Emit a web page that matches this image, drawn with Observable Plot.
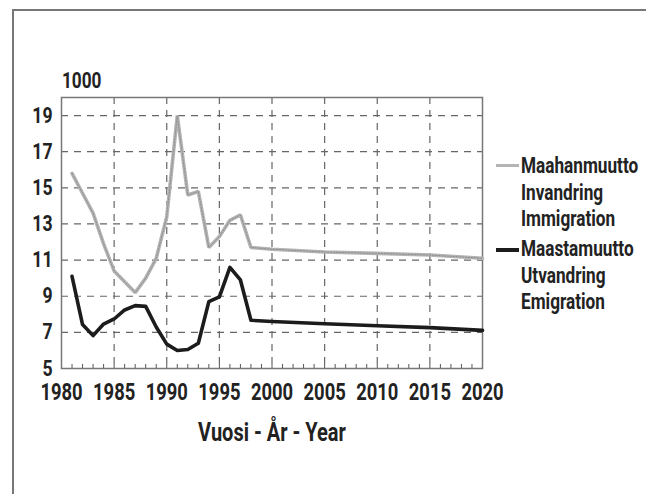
<!DOCTYPE html>
<html>
<head>
<meta charset="utf-8">
<script src="https://cdn.jsdelivr.net/npm/d3@7"></script>
<script src="https://cdn.jsdelivr.net/npm/@observablehq/plot@0.6"></script>
<style>
  html, body { margin: 0; padding: 0; background: #fff; }
  body { width: 646px; height: 494px; position: relative; overflow: hidden;
         font-family: Roboto, 'Liberation Sans', sans-serif; font-weight: 700; color: #222; }
  #border { position: absolute; left: 12px; top: 9px; width: 700px; height: 600px;
            border-left: 2px solid #777; border-top: 2px solid #777; }
  #chart { position: absolute; left: 0; top: 0; }
  .txt { position: absolute; font-size: 21.5px; line-height: 26px; white-space: nowrap;
         transform: scaleX(0.8); transform-origin: 0 0; }
  .sw { position: absolute; width: 23px; }
</style>
</head>
<body>
<div id="border"></div>
<div id="chart"></div>
<div class="txt" id="unit" style="left:62px; top:68px;"></div>
<div id="legend"></div>
<script>
// ---- data ----
const years = [1981,1982,1983,1984,1985,1986,1987,1988,1989,1990,1991,1992,1993,1994,1995,1996,1997,1998,2000,2005,2010,2015,2020];
const immigration = [15.8,14.7,13.6,11.9,10.4,9.8,9.2,10.0,11.1,13.4,19.0,14.6,14.8,11.7,12.3,13.2,13.5,11.7,11.6,11.45,11.37,11.28,11.1];
const emigration  = [10.1,7.43,6.82,7.46,7.74,8.24,8.48,8.44,7.3,6.35,6.0,6.05,6.4,8.7,8.96,10.6,9.9,7.67,7.6,7.48,7.37,7.26,7.11];
const xTicks = [1980,1985,1990,1995,2000,2005,2010,2015,2020];
const yTicks = [5,7,9,11,13,15,17,19];
const minorYears = d3.range(1981, 2020);
const unitLabel = "1000";
const xLabel = "Vuosi - År - Year";
const seriesNames = [
  ["Maahanmuutto", "Invandring", "Immigration"],
  ["Maastamuutto", "Utvandring", "Emigration"]
];
const seriesColors = ["#b4b4b4", "#1c1c1c"];

const immData = years.map((y, i) => ({year: y, value: immigration[i]}));
const emiData = years.map((y, i) => ({year: y, value: emigration[i]}));

const chart = Plot.plot({
  width: 646,
  height: 494,
  marginLeft: 61,
  marginRight: 164,
  marginTop: 97,
  marginBottom: 126,
  style: {fontFamily: "Roboto, 'Liberation Sans', sans-serif", fontSize: "22px", fontWeight: 700, color: "#222", background: "transparent"},
  x: {domain: [1980, 2020], ticks: xTicks, tickFormat: d => String(d), tickSize: 0, tickPadding: 15,
      label: xLabel, labelAnchor: "center", labelOffset: 72, labelArrow: "none"},
  y: {domain: [5, 20], ticks: yTicks, tickSize: 0, tickPadding: 9, label: null},
  marks: [
    Plot.gridY(yTicks.filter(d => d > 5), {stroke: "#666", strokeOpacity: 1, strokeWidth: 1.2, strokeDasharray: "7,6"}),
    Plot.gridX(xTicks.filter(d => d > 1980 && d < 2020), {stroke: "#666", strokeOpacity: 1, strokeWidth: 1.2, strokeDasharray: "7,6"}),
    Plot.ruleX(minorYears, {x: d => d, y1: 5, y2: 5.22, stroke: "#555", strokeWidth: 1}),
    Plot.frame({stroke: "#777", strokeWidth: 1.5}),
    Plot.line(immData, {x: "year", y: "value", stroke: seriesColors[0], strokeWidth: 3.6, strokeLinejoin: "miter"}),
    Plot.line(immData, {x: "year", y: "value", stroke: "#909090", strokeWidth: 1, strokeDasharray: "1.5,1.5", strokeLinejoin: "miter"}),
    Plot.line(emiData, {x: "year", y: "value", stroke: seriesColors[1], strokeWidth: 3.6, strokeLinejoin: "round"})
  ]
});
// font sizes per text role
const lab = chart.querySelector('[aria-label="x-axis label"]');
if (lab) lab.setAttribute("font-size", "25px");
const xt = chart.querySelector('[aria-label="x-axis tick label"]');
if (xt) xt.setAttribute("font-size", "23px");
const yt = chart.querySelector('[aria-label="y-axis tick label"]');
if (yt) yt.setAttribute("font-size", "22px");
// condense the SVG text horizontally (the reference uses a condensed face)
chart.querySelectorAll("text").forEach(t => {
  const tr = t.getAttribute("transform");
  if (tr) t.setAttribute("transform", tr + " scale(0.8,1)");
  else {
    const x = +t.getAttribute("x") || 0;
    t.setAttribute("transform", `translate(${x},0) scale(0.8,1) translate(${-x},0)`);
  }
});
document.getElementById("chart").appendChild(chart);
document.getElementById("unit").textContent = unitLabel;

// ---- legend ----
const legend = document.getElementById("legend");
const groupTops = [153, 236];
const swatchTops = [164, 248];
seriesNames.forEach((lines, i) => {
  const sw = document.createElement("div");
  sw.className = "sw";
  sw.style.left = "496px";
  sw.style.top = swatchTops[i] + "px";
  sw.style.borderTop = (i === 0 ? "3px" : "4px") + " solid " + seriesColors[i];
  legend.appendChild(sw);
  lines.forEach((t, j) => {
    const d = document.createElement("div");
    d.className = "txt";
    d.style.left = "521px";
    d.style.top = (groupTops[i] + j * 26.5) + "px";
    d.textContent = t;
    legend.appendChild(d);
  });
});
</script>
</body>
</html>
